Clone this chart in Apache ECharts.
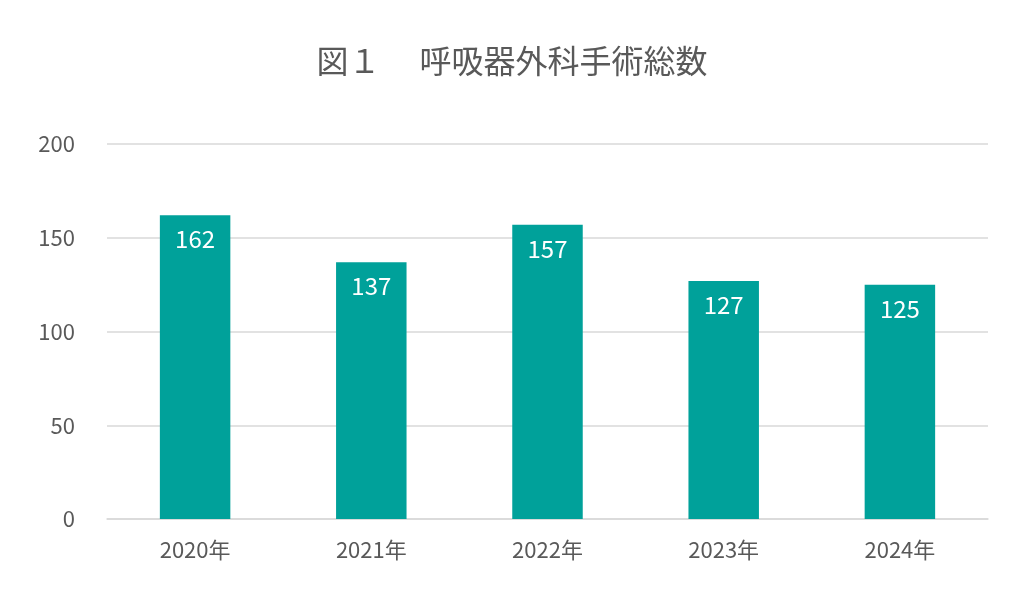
<!DOCTYPE html>
<html>
<head>
<meta charset="utf-8">
<script src="https://cdn.jsdelivr.net/npm/echarts@6/dist/echarts.min.js"></script>
<style>html,body{margin:0;padding:0;background:#fff}#chart{width:1024px;height:613px}</style>
</head>
<body>
<div id="chart"></div>
<script>
const categories = ["2020年", "2021年", "2022年", "2023年", "2024年"];
const surgeries = [162, 137, 157, 127, 125];
const yTicks = [0, 50, 100, 150, 200];

const chart = echarts.init(document.getElementById("chart"));
chart.setOption({
    backgroundColor: "#fff",
    textStyle: { fontFamily: "'Noto Sans CJK JP', 'Noto Sans', sans-serif" },
    title: {
        text: "図１　 呼吸器外科手術総数",
        left: "center",
        top: 40,
        textStyle: { fontSize: 32, fontWeight: "normal", color: "#595959" }
    },
    grid: { left: 107, right: 36, top: 144, bottom: 94 },
    xAxis: {
        type: "category",
        data: categories,
        axisLine: { lineStyle: { color: "#d9d9d9", width: 1.5 } },
        axisTick: { show: false },
        axisLabel: { fontSize: 22, color: "#595959", margin: 20 }
    },
    yAxis: {
        type: "value",
        min: yTicks[0],
        max: yTicks[yTicks.length - 1],
        interval: 50,
        axisLine: { show: false },
        axisTick: { show: false },
        axisLabel: { fontSize: 22, color: "#595959", margin: 32 },
        splitLine: { lineStyle: { color: "#d9d9d9", width: 1.5 } }
    },
    series: [{
        type: "bar",
        data: surgeries,
        barWidth: "40%",
        itemStyle: { color: "#00a19a" },
        label: { show: true, position: "insideTop", distance: 12, color: "#fff", fontSize: 24 }
    }]
});
</script>
</body>
</html>
